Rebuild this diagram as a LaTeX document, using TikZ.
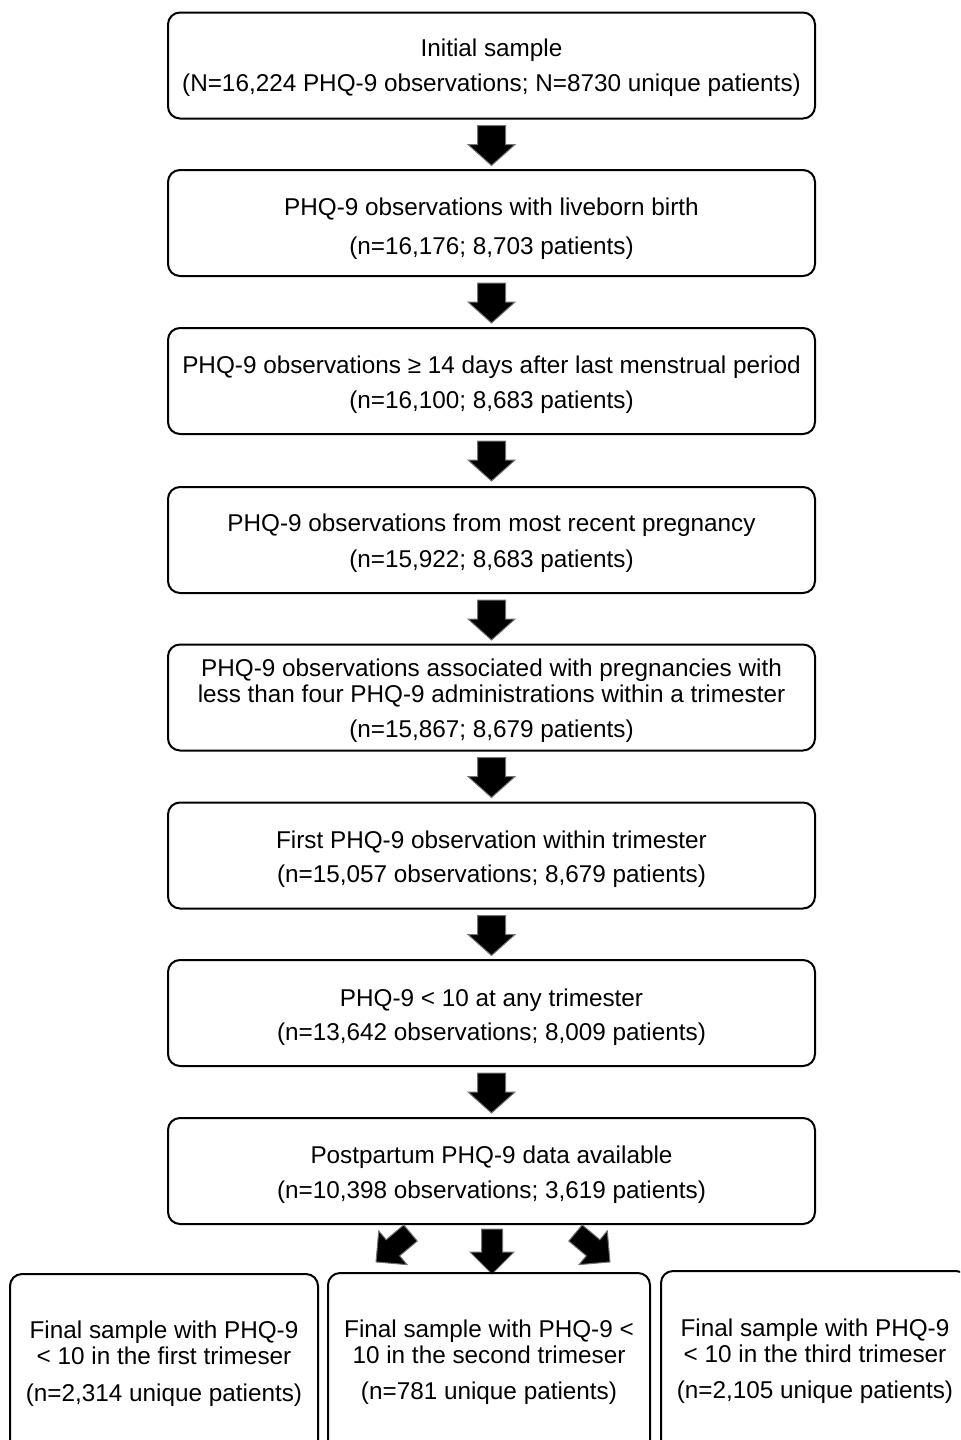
\documentclass[tikz,border=0pt]{standalone}
\usepackage{fontspec}
\setmainfont{Liberation Sans}
\begin{document}
\begin{tikzpicture}[x=0.5pt,y=-0.5pt,
  txt/.style={font=\fontsize{12.15}{13}\selectfont},
  box/.style={draw, line width=1pt, rounded corners=6pt, minimum width=323.5pt, minimum height=53pt, inner sep=0pt},
  lbl/.style={txt, inner sep=0pt, align=center},
  frame/.style={draw, line width=1pt, rounded corners=6pt},
  arr/.style={fill=black, draw=black!55, line width=0.5pt, line join=miter},
  toparrow/.pic={\path[arr] (-14,0) -- (14,0) -- (14,19) -- (23.5,19) -- (0,40) -- (-23.5,19) -- (-14,19) -- cycle;},
  botarrow/.pic={\path[arr] (-10.5,0) -- (10.5,0) -- (10.5,23) -- (22,23) -- (0,45) -- (-22,23) -- (-10.5,23) -- cycle;}
]
\useasboundingbox (0,0) rectangle (960,1440);
\clip (0,0) rectangle (960,1440);

\node[box] (b1) at (491.5,65.5) {};
\node[box] (b2) at (491.5,223) {};
\node[box] (b3) at (491.5,381) {};
\node[box] (b4) at (491.5,540) {};
\node[box] (b5) at (491.5,697.5) {};
\node[box] (b6) at (491.5,855.5) {};
\node[box] (b7) at (491.5,1013) {};
\node[box] (b8) at (491.5,1171) {};

\node[lbl] (t1) at ([yshift=-1.25pt]b1.center) {Initial sample\\[4.5pt](N=16,224 PHQ-9 observations; N=8730 unique patients)};
\node[lbl] (t2) at ([yshift=-3pt]b2.center) {PHQ-9 observations with liveborn birth\\[6.5pt](n=16,176; 8,703 patients)};
\node[lbl] (t3) at ([yshift=-2pt]b3.center) {PHQ-9 observations ≥ 14 days after last menstrual period\\[4.5pt](n=16,100; 8,683 patients)};
\node[lbl] (t4) at ([yshift=-1.5pt]b4.center) {PHQ-9 observations from most recent pregnancy\\[5pt](n=15,922; 8,683 patients)};
\node[lbl] (t5) at ([yshift=-1.5pt]b5.center) {PHQ-9 observations associated with pregnancies with\\less than four PHQ-9 administrations within a trimester\\[4.5pt](n=15,867; 8,679 patients)};
\node[lbl] (t6) at ([yshift=-1.75pt]b6.center) {First PHQ-9 observation within trimester\\[4pt](n=15,057 observations; 8,679 patients)};
\node[lbl] (t7) at ([yshift=-2pt]b7.center) {PHQ-9 < 10 at any trimester\\[4pt](n=13,642 observations; 8,009 patients)};
\node[lbl] (t8) at ([yshift=-2pt]b8.center) {Postpartum PHQ-9 data available\\[4.5pt](n=10,398 observations; 3,619 patients)};

\foreach \n in {b1,b2,b3,b4,b5,b6,b7}{
  \pic at ([yshift=-3pt]\n.south) {toparrow};
}

\coordinate (aL) at (410.5,1233);
\coordinate (aM) at (492,1229);
\coordinate (aR) at (575.5,1233);
\pic[rotate=-50] at (aL) {botarrow};
\pic at (aM) {botarrow};
\pic[rotate=50] at (aR) {botarrow};

\draw[frame] (10,1274) rectangle (318,1470);
\draw[frame] (328,1273) rectangle (650,1470);
\draw[frame] (661,1271) rectangle (968,1470);

\node[lbl] (fA) at (164,1363.5) {Final sample with PHQ-9\\< 10 in the first trimeser\\[5.5pt](n=2,314 unique patients)};
\node[lbl] (fB) at (489,1362) {Final sample with PHQ-9 <\\10 in the second trimeser\\[5pt](n=781 unique patients)};
\node[lbl] (fC) at (815,1361) {Final sample with PHQ-9\\< 10 in the third trimeser\\[5pt](n=2,105 unique patients)};
\end{tikzpicture}
\end{document}
